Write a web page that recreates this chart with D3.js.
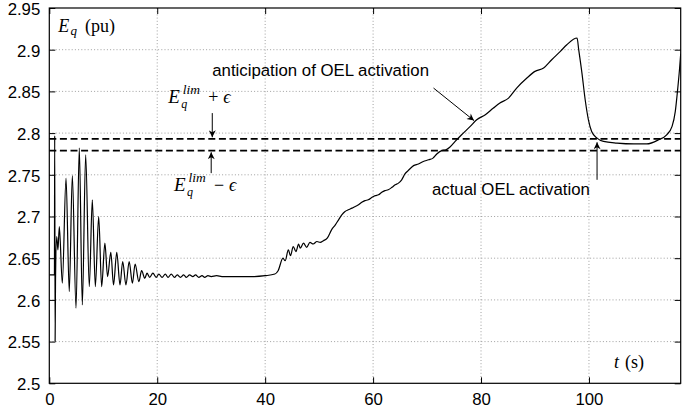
<!DOCTYPE html>
<html><head><meta charset="utf-8">
<script src="https://cdn.jsdelivr.net/npm/d3@7"></script>
<style>body{margin:0;background:#fff}svg{display:block}</style>
</head><body>
<svg id="chart" width="699" height="411"></svg>
<script>
// ---- data ----
const timeS = [0,0.95,1.0,1.08,1.15,1.37,1.6,1.86,2.41,3.1,3.7,4.27,4.95,5.56,6.12,6.74,7.41,7.97,8.53,9.15,9.7,10.3,10.8,11.4,11.9,12.5,13.1,13.6,14.2,14.8,15.4,15.9,16.6,17.1,17.7,18.1,18.6,19.2,19.8,20.3,20.9,21.5,22.0,22.6,23.2,23.7,24.3,24.9,25.4,26.0,26.6,27.1,27.7,28.3,28.8,29.4,30.0,31,32,34,36,38,40,41.8,42.4,43.3,43.7,44.3,44.7,45.2,45.7,46.2,46.5,47.1,47.7,48.3,48.9,49.6,50.2,50.8,51.5,52.3,53.0,53.6,54.2,54.8,55.4,56.1,56.7,57.3,57.9,58.5,59.1,59.8,60.4,61.0,61.6,62.2,62.8,63.5,64.1,64.7,65.3,65.9,66.5,67.5,68.4,69.3,70.3,71.1,71.8,72.7,73.5,74.2,75.2,76.4,78.0,79.2,80.8,82.3,83.5,85.1,86.6,88.5,90.0,91.6,93.1,94.7,95.9,97.8,98.1,98.7,99.3,99.9,100.5,101.5,102.7,105.2,108.3,110.7,112.9,114.4,115.4,116.0,116.4,116.8,117.0];
const eqPu = [2.630,2.630,2.797,2.550,2.622,2.676,2.660,2.688,2.620,2.746,2.610,2.749,2.590,2.782,2.594,2.774,2.616,2.720,2.616,2.700,2.616,2.668,2.628,2.657,2.618,2.657,2.618,2.646,2.618,2.646,2.620,2.643,2.622,2.635,2.626,2.632,2.627,2.632,2.627,2.631,2.627,2.631,2.627,2.631,2.627,2.630,2.627,2.630,2.627,2.630,2.628,2.630,2.627,2.629,2.627,2.629,2.628,2.629,2.628,2.628,2.628,2.628,2.629,2.631,2.635,2.650,2.647,2.660,2.653,2.664,2.658,2.667,2.662,2.668,2.663,2.669,2.667,2.670,2.669,2.671,2.674,2.684,2.690,2.696,2.702,2.706,2.708,2.710,2.712,2.714,2.717,2.719,2.720,2.723,2.725,2.726,2.729,2.731,2.732,2.735,2.738,2.740,2.744,2.751,2.755,2.761,2.763,2.766,2.768,2.770,2.775,2.779,2.780,2.783,2.790,2.798,2.808,2.816,2.822,2.830,2.836,2.842,2.854,2.866,2.874,2.878,2.888,2.898,2.906,2.914,2.900,2.872,2.840,2.816,2.802,2.794,2.790,2.788,2.787,2.787,2.792,2.798,2.808,2.826,2.850,2.878,2.895];
const xTicks = [0,20,40,60,80,100];
const yTicks = [2.5,2.55,2.6,2.65,2.7,2.75,2.8,2.85,2.9,2.95];
const yTickLabels = ["2.5","2.55","2.6","2.65","2.7","2.75","2.8","2.85","2.9","2.95"];
const limUpper = 2.793, limLower = 2.779;

// ---- layout ----
const svg = d3.select("#chart");
const L = 49.3, R = 680.7, T = 8, B = 383.3;
const x = d3.scaleLinear().domain([0,117]).range([L,R]);
const y = d3.scaleLinear().domain([2.5,2.95]).range([B,T]);
const sans = "'Liberation Sans', Arial, Helvetica, sans-serif";
const serif = "'Liberation Serif', 'Times New Roman', serif";

const defs = svg.append("defs");
defs.append("clipPath").attr("id","clip").append("rect")
  .attr("x",L).attr("y",T).attr("width",R-L).attr("height",B-T);
defs.append("marker").attr("id","arr").attr("viewBox","0 0 10 10")
  .attr("refX",10).attr("refY",5).attr("markerWidth",8).attr("markerHeight",7)
  .attr("markerUnits","userSpaceOnUse").attr("orient","auto")
  .append("path").attr("d","M0,0 L10,5 L0,10 L3,5 Z").attr("fill","#000");

// grid
const g = svg.append("g");
g.selectAll(".gx").data(xTicks.filter(d=>d>0)).join("line")
  .attr("x1",d=>x(d)).attr("x2",d=>x(d)).attr("y1",T).attr("y2",B)
  .attr("stroke","#888").attr("stroke-width",0.8).attr("stroke-dasharray","1,2.2");
g.selectAll(".gy").data(yTicks.filter(d=>d>2.5 && d<2.95)).join("line")
  .attr("x1",L).attr("x2",R).attr("y1",d=>y(d)).attr("y2",d=>y(d))
  .attr("stroke","#888").attr("stroke-width",0.8).attr("stroke-dasharray","1,2.2");

// axes (ticks inside, MATLAB box)
const tl = 6;
const axB = d3.axisBottom(x).tickValues(xTicks).tickSize(-tl).tickPadding(tl+4).tickFormat(d3.format("d"));
const axL = d3.axisLeft(y).tickValues(yTicks).tickSize(-tl).tickPadding(tl+3).tickFormat((d,i)=>yTickLabels[i]);
const axT = d3.axisTop(x).tickValues(xTicks).tickSize(-tl).tickFormat("");
const axR = d3.axisRight(y).tickValues(yTicks).tickSize(-tl).tickFormat("");
function styleAx(sel){
  sel.select(".domain").remove();
  sel.selectAll(".tick line").attr("stroke","#000").attr("stroke-width",1);
  sel.selectAll(".tick text").attr("fill","#000").style("font-family",sans).style("font-size","16.8px");
}
svg.append("g").attr("transform",`translate(0,${B})`).call(axB).call(styleAx);
svg.append("g").attr("transform",`translate(${L},0)`).call(axL).call(styleAx)
  .selectAll(".tick text").attr("dy","0.38em");
svg.append("g").attr("transform",`translate(0,${T})`).call(axT).call(styleAx);
svg.append("g").attr("transform",`translate(${R},0)`).call(axR).call(styleAx);

// dashed limits
svg.selectAll(".lim").data([limUpper,limLower]).join("line")
  .attr("x1",L).attr("x2",R).attr("y1",d=>y(d)).attr("y2",d=>y(d))
  .attr("stroke","#000").attr("stroke-width",1.8).attr("stroke-dasharray","7,3.6");

// curve
const pts = timeS.map((t,i)=>[t,eqPu[i]]);
svg.append("path").datum(pts).attr("clip-path","url(#clip)")
  .attr("d",d3.line().x(d=>x(d[0])).y(d=>y(d[1])).curve(d3.curveMonotoneX))
  .attr("fill","none").attr("stroke","#000").attr("stroke-width",1.2).attr("stroke-linejoin","round");

// box
svg.append("rect").attr("x",L).attr("y",T).attr("width",R-L).attr("height",B-T)
  .attr("fill","none").attr("stroke","#000").attr("stroke-width",1.2);

// annotations
function arrow(t1,v1,t2,v2){
  svg.append("line").attr("x1",x(t1)).attr("y1",y(v1)).attr("x2",x(t2)).attr("y2",y(v2))
    .attr("stroke","#000").attr("stroke-width",1).attr("marker-end","url(#arr)");
}
arrow(71.2,2.854,78.7,2.815);
arrow(101.5,2.744,101.5,2.789);
arrow(30.2,2.824,30.2,2.795);
arrow(30.0,2.752,30.0,2.777);

svg.append("text").attr("x",x(30.2)).attr("y",y(2.868)).text("anticipation of OEL activation")
  .style("font-family",sans).style("font-size","16.8px").attr("fill","#000");
svg.append("text").attr("x",x(70.9)).attr("y",y(2.726)).text("actual OEL activation")
  .style("font-family",sans).style("font-size","16.8px").attr("fill","#000");

function eqLabel(x0,yb,op){
  const t = svg.append("text").style("font-family",serif).attr("fill","#000");
  t.append("tspan").attr("x",x0).attr("y",yb).style("font-style","italic").style("font-size","19px").text("E");
  t.append("tspan").attr("x",x0+13).attr("y",yb+5).style("font-style","italic").style("font-size","12px").text("q");
  t.append("tspan").attr("x",x0+14.5).attr("y",yb-9).style("font-style","italic").style("font-size","13.5px").text("lim");
  t.append("tspan").attr("x",x0+40).attr("y",yb).style("font-size","18px").text(op);
  t.append("tspan").attr("x",x0+55).attr("y",yb).style("font-style","italic").style("font-size","18px").text("ϵ");
}
eqLabel(168.3,103,"+");
eqLabel(174,191,"−");

const yl = svg.append("text").style("font-family",serif).attr("fill","#000");
yl.append("tspan").attr("x",58.3).attr("y",31.7).style("font-style","italic").style("font-size","18px").text("E");
yl.append("tspan").attr("x",70.5).attr("y",35).style("font-style","italic").style("font-size","13px").text("q");
yl.append("tspan").attr("x",85).attr("y",31.7).style("font-size","18px").text("(pu)");

const xl = svg.append("text").style("font-family",serif).attr("fill","#000");
xl.append("tspan").attr("x",614).attr("y",368.3).style("font-style","italic").style("font-size","18px").text("t");
xl.append("tspan").attr("x",625).attr("y",368.3).style("font-size","18px").text("(s)");
</script>
</body></html>
